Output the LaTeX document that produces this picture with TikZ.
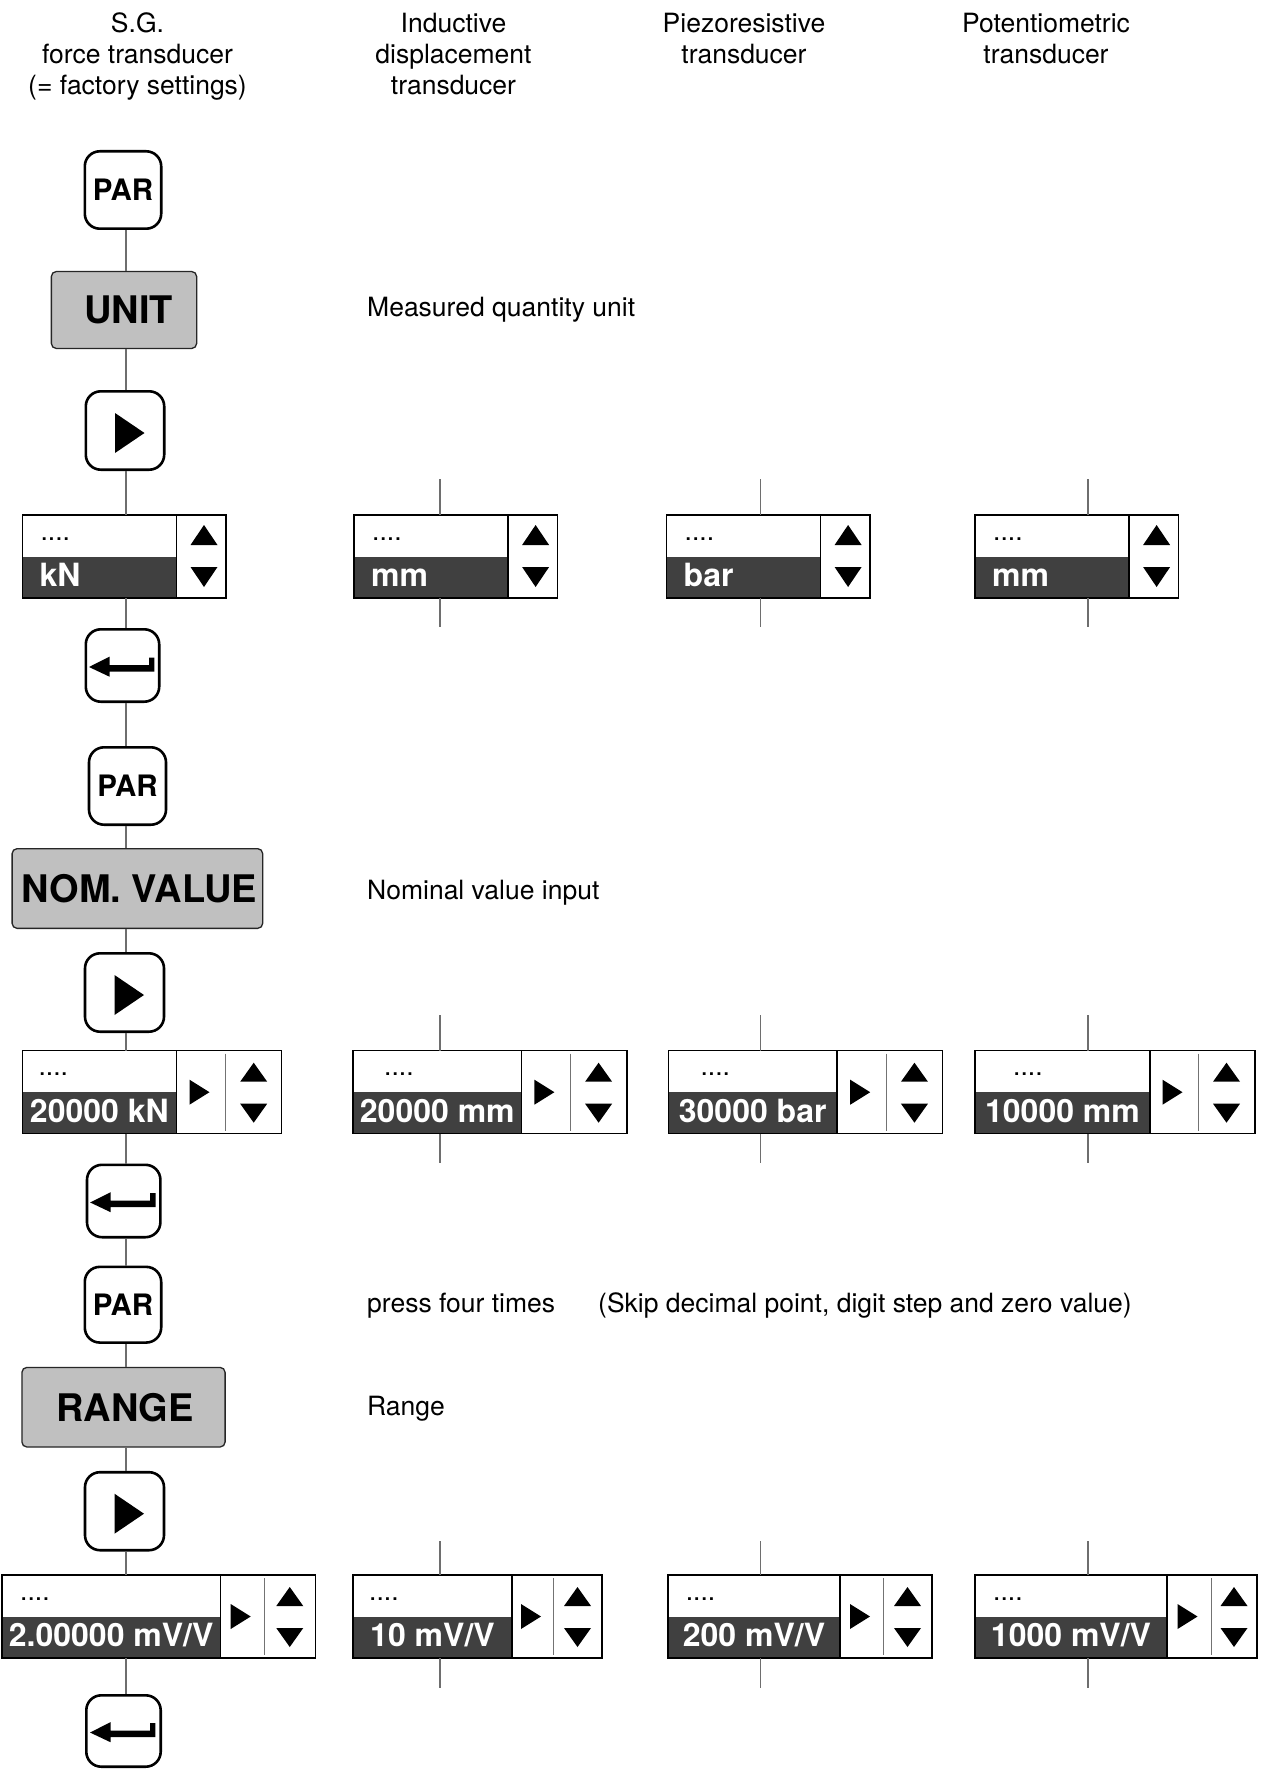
\documentclass[tikz,border=0pt]{standalone}
\usepackage{fontspec}
\setmainfont{TeX Gyre Heros}
\newcommand\myreg{\fontsize{26.5pt}{31pt}\selectfont}
\newcommand\myval{\fontsize{32pt}{36pt}\selectfont\bfseries}
\newcommand\mybtn{\fontsize{29.5pt}{32pt}\selectfont\bfseries}
\newcommand\mybox{\fontsize{38pt}{42pt}\selectfont\bfseries}
\definecolor{boxgray}{RGB}{192,192,192}
\definecolor{dispDark}{RGB}{64,64,64}
\definecolor{connGray}{RGB}{110,110,110}
\tikzset{
  conn/.style={draw=connGray, line width=1.3pt},
  btn/.style={draw=black, line width=2.6pt, rounded corners=15pt, fill=white, inner sep=0pt, font=\mybtn},
  graybox/.style={draw=black!85, line width=1.3pt, rounded corners=5pt, fill=boxgray, inner sep=0pt, font=\mybox},
  dispshape/.style={inner sep=0pt, outer sep=0pt, fill=white},
  dispframe/.style={draw=black, line width=1.3pt},
  dispsep/.style={draw=black, line width=1.3pt},
  dispsepb/.style={draw=black!55, line width=1pt},
  dotstext/.style={font=\myreg, inner sep=0pt, anchor=base west},
  valtext/.style={font=\myval, text=white, inner sep=0pt},
  lbltext/.style={font=\myreg, inner sep=0pt, anchor=base west},
  header/.style={font=\myreg, align=center, inner sep=0pt, anchor=north},
}
% row-1 display: name, left, top, value
\newcommand\dispone[4]{%
  \node[dispshape, minimum width=203.5pt, minimum height=83pt, anchor=north west] (#1) at (#2,#3) {};
  \begin{scope}[shift={(#1.north west)}]
    \fill[dispDark] (0,41.5) rectangle (154,83);
    \draw[dispsep] (154,0) -- (154,83);
    \node[dotstext] at (18,25) {....};
    \node[valtext, anchor=base west] at (17,71.5) {#4};
    \fill (168.1,30) -- (195.1,30) -- (181.6,10) -- cycle;
    \fill (168.1,52) -- (195.1,52) -- (181.6,72) -- cycle;
  \end{scope}
  \draw[dispframe] (#1.north west) rectangle (#1.south east);
}
% row-2/3 display: name, left, top, w1, w2, w3, value, dots x
\newcommand\disptwo[8]{%
  \pgfmathsetmacro\dW{#4+#5+#6}
  \node[dispshape, minimum width=\dW pt, minimum height=83pt, anchor=north west] (#1) at (#2,#3) {};
  \begin{scope}[shift={(#1.north west)}]
    \fill[dispDark] (0,41.5) rectangle (#4,83);
    \draw[dispsep] (#4,0) -- (#4,83);
    \draw[dispsepb] (#4+#5,3) -- (#4+#5,80);
    \node[dotstext] at (#8,25) {....};
    \node[valtext, anchor=base] at (#4/2,71.5) {#7};
    \fill (#4+#5/2-11.5,29) -- (#4+#5/2-11.5,54) -- (#4+#5/2+8.5,41.5) -- cycle;
    \fill (#4+#5+#6/2-13.5,31) -- (#4+#5+#6/2+13.5,31) -- (#4+#5+#6/2,12) -- cycle;
    \fill (#4+#5+#6/2-13.5,53) -- (#4+#5+#6/2+13.5,53) -- (#4+#5+#6/2,72) -- cycle;
  \end{scope}
  \draw[dispframe] (#1.north west) rectangle (#1.south east);
}
\newcommand\playtri[1]{\fill[shift={(#1.center)}] (-10,-17.5) -- (-10,22.5) -- (19.5,2.5) -- cycle;}
\newcommand\enterarrow[1]{\fill[shift={(#1.center)}] (-33.5,1.5) -- (-13,-8.8) -- (-13,-0.5) -- (26.5,-0.5) -- (26.5,-7.8) -- (31.8,-7.8) -- (31.8,6.2) -- (-13,6.2) -- (-13,11.2) -- cycle;}
\begin{document}
\begin{tikzpicture}[x=1pt,y=-1pt]
\useasboundingbox (0,0) rectangle (1263,1771);
\fill[white] (0,0) rectangle (1263,1771);

% headers
\node[header] (h1) at (137.5,12.7) {S.G.\\force transducer\\(= factory settings)};
\node[header] (h2) at (453.5,12.7) {Inductive\\displacement\\transducer};
\node[header] (h3) at (744,12.7) {Piezoresistive\\transducer};
\node[header] (h4) at (1046,12.7) {Potentiometric\\transducer};

% right-hand labels
\node[lbltext] (l1) at (367,316.5) {Measured quantity unit};
\node[lbltext] (l2) at (367,899.5) {Nominal value input};
\node[lbltext] (l3) at (367,1312.5) {press four times};
\node[lbltext] (l4) at (598,1312.5) {(Skip decimal point, digit step and zero value)};
\node[lbltext] (l5) at (367,1415) {Range};

% main column
\coordinate (spine) at (126,0);
\node[btn, minimum width=76.4pt, minimum height=77.4pt] (par1) at (123,190) {PAR};
\node[graybox, minimum width=145.3pt, minimum height=77pt] (unit) at (124,310) {\hspace*{9pt}UNIT};
\node[btn, minimum width=78.4pt, minimum height=78.4pt] (play1) at (125,430.5) {};
\playtri{play1}
\dispone{d11}{22.4}{515}{kN}
\node[btn, minimum width=73.4pt, minimum height=72.4pt] (ent1) at (122.5,665.5) {};
\enterarrow{ent1}
\node[btn, minimum width=77pt, minimum height=77.4pt] (par2) at (127.5,786) {PAR};
\node[graybox, minimum width=250.6pt, minimum height=79.7pt] (nom) at (137.4,888.5) {\hspace*{4pt}NOM. VALUE};
\node[btn, minimum width=79pt, minimum height=78.4pt] (play2) at (124.5,992.5) {};
\playtri{play2}
\disptwo{d12}{22.4}{1050.7}{153.9}{49.4}{56}{20000 kN}{16}
\node[btn, minimum width=73.4pt, minimum height=72.4pt] (ent2) at (123.7,1201) {};
\enterarrow{ent2}
\node[btn, minimum width=76.4pt, minimum height=75.7pt] (par3) at (123,1304.7) {PAR};
\node[graybox, minimum width=203.2pt, minimum height=79.6pt] (range) at (123.5,1407.2) {\hspace*{3pt}RANGE};
\node[btn, minimum width=79pt, minimum height=78pt] (play3) at (124.5,1511.2) {};
\playtri{play3}
\disptwo{d13}{2}{1575}{218.4}{43.6}{51.5}{2.00000 mV/V}{18}
\node[btn, minimum width=74.4pt, minimum height=71.4pt] (ent3) at (123.5,1731) {};
\enterarrow{ent3}

% main connectors
\draw[conn] (par1.south -| spine) -- (unit.north -| spine);
\draw[conn] (unit.south -| spine) -- (play1.north -| spine);
\draw[conn] (play1.south -| spine) -- (d11.north -| spine);
\draw[conn] (d11.south -| spine) -- (ent1.north -| spine);
\draw[conn] (ent1.south -| spine) -- (par2.north -| spine);
\draw[conn] (par2.south -| spine) -- (nom.north -| spine);
\draw[conn] (nom.south -| spine) -- (play2.north -| spine);
\draw[conn] (play2.south -| spine) -- (d12.north -| spine);
\draw[conn] (d12.south -| spine) -- (ent2.north -| spine);
\draw[conn] (ent2.south -| spine) -- (par3.north -| spine);
\draw[conn] (par3.south -| spine) -- (range.north -| spine);
\draw[conn] (range.south -| spine) -- (play3.north -| spine);
\draw[conn] (play3.south -| spine) -- (d13.north -| spine);
\draw[conn] (d13.south -| spine) -- (ent3.north -| spine);

% other columns
\dispone{d21}{354}{515}{mm}
\dispone{d31}{666.5}{515}{bar}
\dispone{d41}{975}{515}{mm}
\disptwo{d22}{353}{1050.7}{168.6}{48.6}{56.8}{20000 mm}{31}
\disptwo{d32}{668.4}{1050.7}{168.6}{49.4}{56.1}{30000 bar}{32}
\disptwo{d42}{975}{1050.7}{175}{48}{57}{10000 mm}{38}
\disptwo{d23}{353}{1575}{159}{41}{49}{10 mV/V}{16}
\disptwo{d33}{668}{1575}{172}{43}{49}{200 mV/V}{17.6}
\disptwo{d43}{975}{1575}{192}{44}{46}{1000 mV/V}{18}

% stubs
\coordinate (s21t) at (440,479);   \coordinate (s21b) at (440,627);
\coordinate (s31t) at (760.6,479); \coordinate (s31b) at (760.6,627);
\coordinate (s41t) at (1088,479);  \coordinate (s41b) at (1088,627);
\coordinate (s22t) at (440,1015);   \coordinate (s22b) at (440,1162.7);
\coordinate (s32t) at (760.6,1015); \coordinate (s32b) at (760.6,1162.7);
\coordinate (s42t) at (1088,1015);  \coordinate (s42b) at (1088,1162.7);
\coordinate (s23t) at (440,1541);   \coordinate (s23b) at (440,1688);
\coordinate (s33t) at (760.6,1541); \coordinate (s33b) at (760.6,1688);
\coordinate (s43t) at (1088,1541);  \coordinate (s43b) at (1088,1688);
\foreach \c in {21,31,41,22,32,42,23,33,43}{
  \draw[conn] (s\c t) -- (d\c.north -| s\c t);
  \draw[conn] (d\c.south -| s\c b) -- (s\c b);
}
\end{tikzpicture}
\end{document}
